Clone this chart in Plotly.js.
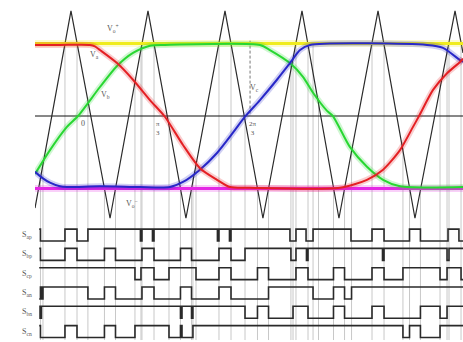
<!DOCTYPE html>
<html><head><meta charset="utf-8">
<script src="https://cdn.plot.ly/plotly-3.0.1.min.js"></script>
<style>html,body{margin:0;padding:0;background:#fff}#c{width:463px;height:342px}</style>
</head><body><div id="c"></div>
<script>
// ---- data (x in electrical degrees, y in per-unit) ----
const carrierX = [-30.7, -5, 22.9, 50, 77.1, 105, 132.1, 160, 186.4, 214.3, 240.7, 269.3, 275];
const carrierY = [-1.27, 1.45, -1.41, 1.45, -1.41, 1.45, -1.41, 1.45, -1.41, 1.45, -1.41, 1.45, 0.87];

const phaseAX = [-30.7, -12.9, 8.6, 12.1, 15.7, 27.9, 39.3, 51.4, 62.1, 75, 87.1, 99.3, 108.6, 122.9, 187.1, 206.4, 217.9, 230, 239.3, 243.6, 253.6, 263.6, 272.9, 275];
const phaseAY = [0.98, 0.98, 0.98, 0.96, 0.91, 0.73, 0.50, 0.22, -0.01, -0.40, -0.72, -0.88, -0.98, -0.99, -0.99, -0.88, -0.74, -0.47, -0.15, 0, 0.36, 0.59, 0.745, 0.79];

const phaseBX = [-30.7, -20, -7.9, 0, 15.7, 27.9, 39.3, 51.4, 62.1, 130, 137.1, 151.4, 160.7, 167.9, 177.9, 182.1, 194.3, 206.4, 217.9, 230, 275];
const phaseBY = [-0.80, -0.47, -0.15, 0, 0.40, 0.69, 0.87, 0.97, 0.98, 0.98, 0.91, 0.73, 0.54, 0.32, 0.07, 0, -0.43, -0.70, -0.88, -0.97, -0.98];

const phaseCX = [-30.7, -25, -20, -12.9, -7.9, 15.7, 44.3, 65.7, 75, 87.1, 99.3, 110.7, 119.3, 130, 142.1, 151.4, 158.6, 165.7, 249.3, 260.7, 272.9, 275];
const phaseCY = [-0.77, -0.86, -0.92, -0.97, -0.98, -0.97, -0.98, -0.98, -0.91, -0.74, -0.51, -0.23, -0.01, 0.22, 0.50, 0.73, 0.91, 0.98, 0.98, 0.94, 0.77, 0.745];

const upperLimit = 1.0;
const lowerLimit = -1.0;
const xStart = -30.7, xEnd = 275;

// switching instants (guide lines) and the level where each starts
const guideX = [-26.8, -25, -9.3, -0.7, 7.1, 18.9, 26.8, 40.7, 45, 45.7, 54.3, 65, 73.2, 81.1, 82.1, 84.3, 100.7, 109.3, 119.3, 128.2, 136.1, 152.1, 153.6, 155.7, 164.3, 167.9, 171.8, 182.5, 190.4, 195.4, 210, 218.6, 232.1, 236.8, 244.6, 258.6, 263.6, 265, 273.6];
const guideTop = [-0.86, -0.65, 1, 1, 0.19, -1, -1, 0.46, 0.95, 1, 1, -0.17, -1, -1, -0.83, -0.65, 1, 1, -0.03, -1, -1, 0.73, 0.81, 1, 1, 0.98, 0.25, -1, -1, -0.47, 1, 1, -0.36, -1, -1, 0.47, 0.91, 1, 1];

// gate signals
const gateNames = ['S<sub>ap</sub>', 'S<sub>bp</sub>', 'S<sub>cp</sub>', 'S<sub>an</sub>', 'S<sub>bn</sub>', 'S<sub>cn</sub>'];
const gateStart = [1, 1, 1, 0, 1, 1];
const gateEdges = [
  [-26.8, -9.3, -0.7, 7.1, 44.6, 45.7, 53.2, 54.3, 99.6, 100.7, 108.2, 109.3, 151.4, 155.7, 162.9, 167.9, 195, 210, 218.6, 236.8, 244.6, 264.3, 272.1],
  [-26.8, -9.3, -0.7, 18.9, 26.8, 45.7, 54.3, 73.2, 81.1, 100.7, 109.3, 119.3, 152.1, 155.7, 163.2, 164.3, 217.5, 218.6, 263.6, 265],
  [40.7, 45, 54.3, 65, 84.3, 100.7, 109.3, 128.2, 136.1, 155.7, 164.3, 182.5, 190.4, 210, 218.6, 232.1, 258.6, 263.6, 273.6],
  [-26.8, -26.1, -25, 7.1, 18.9, 26.8, 45.7, 54.3, 73.2, 81.1, 100.7, 109.3, 136.1, 167.9, 182.5, 190.4, 195.4],
  [-27.1, -26.1, 73.2, 74.3, 81.1, 82.1, 119.3, 128.2, 136.1, 153.6, 164.3, 182.5, 190.4, 210, 218.6, 244.6, 258.6, 263.6],
  [-26.8, -9.3, -0.7, 18.9, 26.8, 40.7, 65, 73.2, 74.3, 82.1, 232.1, 236.8, 244.6, 258.6]
];

// ---- build traces ----
const traces = [];
const gx = [], gy = [];
guideX.forEach((x, i) => { gx.push(x, x, null); gy.push(guideTop[i], -3.09, null); });
traces.push({x: gx, y: gy, mode: 'lines', line: {color: '#c8c8c8', width: 1}, hoverinfo: 'skip'});

traces.push({x: [xStart, xEnd], y: [0, 0], mode: 'lines', line: {color: '#111', width: 1}});
traces.push({x: [122.9, 122.9], y: [1.04, 0], mode: 'lines', line: {color: '#777', width: 1, dash: '3px,2px'}});

traces.push({x: carrierX, y: carrierY, mode: 'lines', line: {color: '#2a2a2a', width: 1.2}});

function glowLine(xs, ys, rgb, w, shape) {
  traces.push({x: xs, y: ys, mode: 'lines', line: {color: 'rgba(' + rgb + ',0.22)', width: w + 4, shape: shape, smoothing: 0.7}});
  traces.push({x: xs, y: ys, mode: 'lines', line: {color: 'rgb(' + rgb + ')', width: w, shape: shape, smoothing: 0.7}});
}
glowLine([xStart, xEnd], [upperLimit, upperLimit], '240,236,30', 2.8, 'linear');
glowLine([xStart, xEnd], [lowerLimit, lowerLimit], '228,40,228', 2.8, 'linear');
glowLine(phaseBX, phaseBY, '40,215,50', 2, 'spline');
glowLine(phaseCX, phaseCY, '40,40,200', 2, 'spline');
glowLine(phaseAX, phaseAY, '228,32,36', 2, 'spline');

gateEdges.forEach((edges, k) => {
  const xs = [xStart + 3], ys = [];
  let s = gateStart[k];
  ys.push(-k + (s ? 0.31 : -0.31));
  edges.forEach(e => { s = 1 - s; xs.push(e); ys.push(-k + (s ? 0.31 : -0.31)); });
  xs.push(xEnd); ys.push(ys[ys.length - 1]);
  traces.push({x: xs, y: ys, yaxis: 'y2', mode: 'lines', line: {color: '#2a2a2a', width: 1.6, shape: 'hv'}});
});

const lab = (x, y, t, s) => ({x: x, y: y, xref: 'x', yref: 'y', text: t, showarrow: false,
  font: {family: 'Liberation Serif', size: s || 8, color: '#555'}});
const annotations = [
  lab(25, 1.21, 'V<sub>o</sub><sup>+</sup>'),
  lab(12.1, 0.84, 'V<sub>a</sub>'),
  lab(19.3, 0.29, 'V<sub>b</sub>'),
  lab(126.4, 0.39, 'V<sub>c</sub>'),
  lab(3.6, -0.11, '0'),
  lab(57.1, -0.17, 'π<br>3', 7),
  lab(125, -0.17, '2π<br>3', 7),
  lab(38.6, -1.2, 'V<sub>o</sub><sup>−</sup>')
];
gateNames.forEach((n, k) => annotations.push({x: -0.035, y: -k, xref: 'paper', yref: 'y2', text: n, showarrow: false,
  font: {family: 'Liberation Serif', size: 8, color: '#555'}}));

Plotly.newPlot('c', traces, {
  width: 463, height: 342, showlegend: false,
  margin: {l: 35, r: 0, t: 0, b: 0},
  paper_bgcolor: '#fff', plot_bgcolor: '#fff',
  xaxis: {range: [xStart, xEnd], visible: false},
  yaxis: {range: [-3.117, 1.6], visible: false},
  yaxis2: {range: [-5.54, 12.18], overlaying: 'y', visible: false},
  annotations: annotations
}, {staticPlot: true});
</script></body></html>
